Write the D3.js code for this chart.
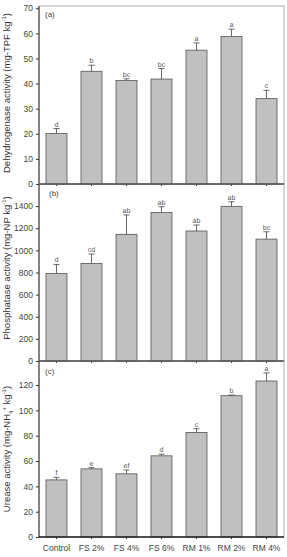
<!DOCTYPE html>
<html><head><meta charset="utf-8">
<script src="https://cdn.jsdelivr.net/npm/d3@7"></script>
<style>body{margin:0;background:#fff}svg{display:block;font-family:"Liberation Sans",Arial,sans-serif}</style>
</head><body><svg id="c" width="287" height="557"></svg>
<script>
const categories = ["Control","FS 2%","FS 4%","FS 6%","RM 1%","RM 2%","RM 4%"];
const dehydrogenase = [20.1,44.9,41.2,41.8,53.3,58.8,34.0];
const dehydrogenaseErr = [2.0,2.4,0.7,4.2,2.9,2.9,3.3];
const dehydrogenaseLetters = ["d","b","bc","bc","a","a","c"];
const phosphatase = [792,882,1145,1343,1175,1398,1102];
const phosphataseErr = [81,85,175,52,54,42,66];
const phosphataseLetters = ["d","cd","ab","ab","ab","ab","bc"];
const urease = [45.1,53.8,49.9,64.1,82.6,111.6,123.2];
const ureaseErr = [2.0,1.0,3.0,1.3,2.9,0.5,6.4];
const ureaseLetters = ["f","e","ef","d","c","b","a"];
const ticks1 = [0,10,20,30,40,50,60,70];
const ticks2 = [0,200,400,600,800,1000,1200,1400];
const ticks3 = [0,20,40,60,80,100,120];

const svg = d3.select("#c");
const L = 39, R = 284;
const x = d3.scaleBand().domain(categories).range([L,R]).paddingInner(0.4).paddingOuter(0.2);

const panels = [
  {top:6, bottom:184, max:70.9, vals:dehydrogenase, err:dehydrogenaseErr, letters:dehydrogenaseLetters, ticks:ticks1, tag:"(a)", tagX:45, tagY:17, titleY:93,
   title:[["Dehydrogenase activity (mg-TPF kg",""],["-1","sup"],[")",""]]},
  {top:184, bottom:361, max:1600, vals:phosphatase, err:phosphataseErr, letters:phosphataseLetters, ticks:ticks2, tag:"(b)", tagX:49, tagY:196, titleY:268,
   title:[["Phosphatase activity (mg-NP kg",""],["-1","sup"],[")",""]]},
  {top:361, bottom:537, max:139, vals:urease, err:ureaseErr, letters:ureaseLetters, ticks:ticks3, tag:"(c)", tagX:45, tagY:374, titleY:449,
   title:[["Urease activity (mg-NH",""],["4","sub"],["+","sup2"],[" kg",""],["-1","sup"],[")",""]]}
];

panels.forEach((p,pi)=>{
  const y = d3.scaleLinear().domain([0,p.max]).range([p.bottom,p.top]);
  const g = svg.append("g");
  g.append("rect").attr("x",L).attr("y",p.top).attr("width",R-L).attr("height",p.bottom-p.top)
    .attr("fill","none").attr("stroke","#999").attr("stroke-width",0.8);
  g.selectAll("rect.bar").data(p.vals).join("rect").attr("class","bar")
    .attr("x",(d,i)=>x(categories[i])).attr("y",d=>y(d))
    .attr("width",x.bandwidth()).attr("height",d=>p.bottom-y(d))
    .attr("fill","#c0c0c0").attr("stroke","#555").attr("stroke-width",0.8);
  p.vals.forEach((v,i)=>{
    const cx = x(categories[i])+x.bandwidth()/2;
    g.append("line").attr("x1",cx).attr("x2",cx).attr("y1",y(v)).attr("y2",y(v+p.err[i])).attr("stroke","#444").attr("stroke-width",0.8);
    g.append("line").attr("x1",cx-3).attr("x2",cx+3).attr("y1",y(v+p.err[i])).attr("y2",y(v+p.err[i])).attr("stroke","#444").attr("stroke-width",0.8);
    g.append("text").attr("x",cx).attr("y",y(v+p.err[i])-2).attr("text-anchor","middle")
      .attr("font-size",7).attr("fill","#555").attr("text-rendering","geometricPrecision").text(p.letters[i]);
  });
  const ya = g.append("g").attr("transform",`translate(${L},0)`)
    .call(d3.axisLeft(y).tickValues(p.ticks).tickFormat(d3.format("d")).tickSize(3).tickPadding(3));
  ya.select(".domain").attr("stroke","#333").attr("d",`M0,${p.top}V${p.bottom}`);
  ya.selectAll("line").attr("stroke","#333");
  ya.selectAll("text").attr("font-size",8.5).attr("fill","#444").attr("font-family","Liberation Sans, Arial");
  const xa = g.append("g").attr("transform",`translate(0,${p.bottom})`)
    .call(d3.axisBottom(x).tickSize(2).tickPadding(6));
  xa.select(".domain").attr("stroke","#222").attr("stroke-width",1.4).attr("d",`M${L},0H${R}`);
  xa.selectAll("line").attr("stroke","#333");
  xa.selectAll("text").attr("font-size",8.5).attr("fill","#444").attr("font-family","Liberation Sans, Arial");
  if (pi<2) xa.selectAll("text").remove();
  g.append("text").attr("x",p.tagX).attr("y",p.tagY).attr("font-size",8).attr("fill","#444").text(p.tag);
  const t = g.append("text").attr("transform",`translate(10,${p.titleY}) rotate(-90)`)
    .attr("text-anchor","middle").attr("font-size",9.5).attr("fill","#333");
  let cur = 0;
  p.title.forEach(([s,k])=>{
    const ts = t.append("tspan").text(s);
    let target = 0;
    if (k==="sup") { ts.attr("font-size",6); target = -4; }
    else if (k==="sub") { ts.attr("font-size",6); target = 2.5; }
    else if (k==="sup2") { ts.attr("font-size",6); target = -4; }
    ts.attr("dy", target - cur);
    cur = target;
  });
});
</script></body></html>
